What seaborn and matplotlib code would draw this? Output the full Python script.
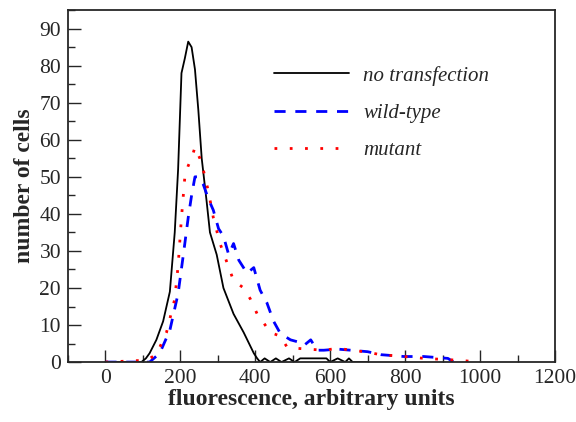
import matplotlib
matplotlib.use("Agg")
import matplotlib.pyplot as plt
import seaborn as sns
import pandas as pd
from matplotlib.ticker import MultipleLocator

# ---- data ----
x_none = [0, 96, 108, 118, 136, 154, 172, 185, 194, 203, 212, 221, 230, 239, 248, 257,
          270, 279, 297, 315, 342, 369, 396, 405, 413, 425, 440, 455, 470, 490, 505, 520,
          540, 560, 590, 600, 620, 640, 650, 660, 700]
y_none = [0, 0, 1, 2.4, 6, 11, 19, 35, 52, 78, 82, 86.5, 85, 79, 68, 55,
          43.5, 35, 29, 20, 13, 8, 2.4, 1, 0, 1, 0, 1, 0, 1, 0, 1,
          1, 1, 1, 0, 1, 0, 1, 0, 0]

x_wt = [0, 118, 145, 172, 194, 208, 221, 230, 239, 248, 261, 275, 288, 302, 315, 329,
        342, 356, 378, 396, 413, 431, 449, 467, 494, 512, 530, 548, 565, 583, 620, 655,
        700, 735, 797, 850, 914, 930]
y_wt = [0, 0, 2.4, 8.6, 18.5, 29, 39, 45, 50, 50, 48, 44, 41, 36, 34, 29,
        32, 27.5, 24, 25.5, 19.4, 16, 11, 7.7, 6, 5.5, 4.5, 6, 3.2, 3.2, 3.5, 3.2,
        2.8, 2, 1.5, 1.5, 1, 0]

x_mut = [0, 109, 136, 163, 185, 194, 203, 212, 221, 230, 239, 252, 261, 275, 288, 306,
         324, 342, 369, 387, 405, 423, 440, 467, 485, 512, 583, 619, 690, 735, 797,
         851, 941, 1000]
y_mut = [0, 0.5, 2, 8, 17, 26, 39, 50, 53, 55, 58, 55, 52, 46, 39, 32,
         27, 22, 20, 17, 13, 10.5, 8, 7, 4, 3.7, 3.2, 3.7, 2.8, 2, 1.5,
         1, 0.5, 0]

series_names = ["no transfection", "wild-type", "mutant"]
x_ticks = [0, 200, 400, 600, 800, 1000, 1200]
y_ticks = [0, 10, 20, 30, 40, 50, 60, 70, 80, 90]

sns.set_style("ticks")
plt.rcParams["font.family"] = ["Liberation Serif", "DejaVu Serif"]

fig = plt.figure(figsize=(5.76, 4.22), dpi=100)
ax = fig.add_axes([0.118, 0.142, 0.8455, 0.834])

d1 = pd.DataFrame({"x": x_none, "y": y_none})
d2 = pd.DataFrame({"x": x_wt, "y": y_wt})
d3 = pd.DataFrame({"x": x_mut, "y": y_mut})

sns.lineplot(data=d1, x="x", y="y", ax=ax, color="black", lw=1.3,
             label=series_names[0], sort=False)
sns.lineplot(data=d2, x="x", y="y", ax=ax, color="#0000ff", lw=2.0,
             label=series_names[1], sort=False)
sns.lineplot(data=d3, x="x", y="y", ax=ax, color="#ff0000", lw=2.0,
             label=series_names[2], sort=False)
ax.lines[1].set_dashes((4, 3.5))
ax.lines[2].set_dashes((1, 4.5))

ax.set_xlim(-100, 1200)
ax.set_ylim(0, 95)
ax.set_xticks(x_ticks)
ax.set_yticks(y_ticks)
ax.xaxis.set_minor_locator(MultipleLocator(100))
ax.yaxis.set_minor_locator(MultipleLocator(5))
ax.tick_params(which="major", direction="in", length=9, width=1, labelsize=15.5,
               top=False, right=False, pad=5)
ax.tick_params(which="minor", direction="in", length=5, width=1,
               top=False, right=False)
for s in ax.spines.values():
    s.set_visible(True)
    s.set_linewidth(1.3)

ax.set_xlabel("fluorescence, arbitrary units", fontsize=17, fontweight="bold", labelpad=1)
ax.set_ylabel("number of cells", fontsize=17, fontweight="bold", labelpad=3)

leg = ax.legend(loc="upper left", bbox_to_anchor=(0.384, 0.895), frameon=False,
                handlelength=3.6, handletextpad=0.7, labelspacing=0.85,
                prop={"family": "Liberation Serif", "style": "italic", "size": 15})
leg_lines = leg.get_lines()
leg_lines[1].set_dashes((4, 3.5))
leg_lines[2].set_dashes((1, 4.5))

fig.savefig("out.png", dpi=100)
